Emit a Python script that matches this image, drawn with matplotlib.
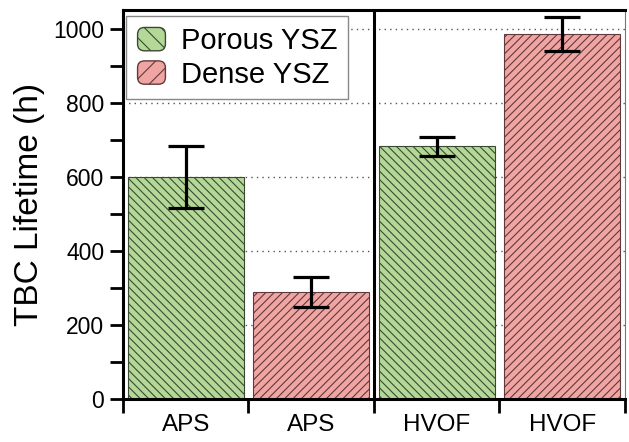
import matplotlib
matplotlib.use("Agg")
import matplotlib.pyplot as plt
from matplotlib.patches import FancyBboxPatch, Patch
from matplotlib.legend_handler import HandlerPatch
from matplotlib.ticker import MultipleLocator

plt.rcParams['font.family'] = ['Liberation Sans', 'DejaVu Sans']
plt.rcParams['hatch.linewidth'] = 0.8

# data
labels = ['APS', 'APS', 'HVOF', 'HVOF']
lifetime = [600, 288, 682, 985]
err = [84, 41, 25, 46]
kinds = ['Porous YSZ', 'Dense YSZ', 'Porous YSZ', 'Dense YSZ']

fill = {'Porous YSZ': '#b4d897', 'Dense YSZ': '#f0a5a3'}
edge = {'Porous YSZ': '#3a4a32', 'Dense YSZ': '#603a3a'}
hatch = {'Porous YSZ': '\\\\\\\\', 'Dense YSZ': '////'}


class RoundHandler(HandlerPatch):
    def create_artists(self, legend, orig_handle, xdescent, ydescent,
                       width, height, fontsize, trans):
        p = FancyBboxPatch((-xdescent + 1, -ydescent + 1), width - 2, height - 2,
                           boxstyle='round,pad=0,rounding_size=5',
                           facecolor=orig_handle.get_facecolor(),
                           edgecolor=orig_handle.get_edgecolor(),
                           hatch='\\\\' if '\\' in orig_handle.get_hatch() else '//',
                           lw=1.0, transform=trans)
        return [p]


fig = plt.figure(figsize=(6.29, 4.42), dpi=100)
ax = fig.add_axes([0.1955, 0.0973, 0.798, 0.88])

xpos = [i + 0.5 for i in range(len(labels))]
for x, v, e, k in zip(xpos, lifetime, err, kinds):
    ax.bar(x, v, width=0.925, color=fill[k], edgecolor=edge[k],
           hatch=hatch[k], linewidth=0.8, zorder=2)
    ax.errorbar(x, v, yerr=e, color='black', capsize=13, capthick=2.3,
                elinewidth=2.3, zorder=4)

ax.set_xlim(0, 4)
ax.set_ylim(0, 1050)
ax.axvline(2, color='black', lw=2.2, zorder=5)

for y in [200, 400, 600, 800, 1000]:
    ax.axhline(y, color='#555555', lw=1.0, ls=(0, (1, 3)), zorder=1)

ax.yaxis.set_major_locator(MultipleLocator(200))
ax.yaxis.set_minor_locator(MultipleLocator(100))
ax.tick_params(axis='y', which='major', length=9.5, width=2, labelsize=16.5, pad=4)
ax.tick_params(axis='y', which='minor', length=9.5, width=2)

ax.set_xticks([0, 1, 2, 3, 4])
ax.set_xticklabels([])
ax.set_xticks(xpos, minor=True)
ax.set_xticklabels(labels, minor=True)
ax.tick_params(axis='x', which='major', length=10, width=2)
ax.tick_params(axis='x', which='minor', length=0, labelsize=17.5, pad=11)

for s in ['left', 'bottom', 'top']:
    ax.spines[s].set_linewidth(2.2)
ax.spines['right'].set_linewidth(0.8)
ax.spines['right'].set_color('#777777')

ax.set_ylabel('TBC Lifetime (h)', fontsize=24, labelpad=6)

handles = [Patch(facecolor=fill[k], edgecolor=edge[k], hatch=hatch[k])
           for k in ['Porous YSZ', 'Dense YSZ']]
leg = ax.legend(handles, ['Porous YSZ', 'Dense YSZ'], loc='upper left',
                bbox_to_anchor=(0.006, 0.985),
                fontsize=21, handlelength=1.05, handleheight=1.0,
                handletextpad=0.5, labelspacing=0.15, borderpad=0.35,
                fancybox=False, framealpha=1, edgecolor='#888888',
                borderaxespad=0.0, handler_map={Patch: RoundHandler()})
leg.get_frame().set_linewidth(1.0)
leg.set_zorder(6)

fig.savefig('out.png', dpi=100)
